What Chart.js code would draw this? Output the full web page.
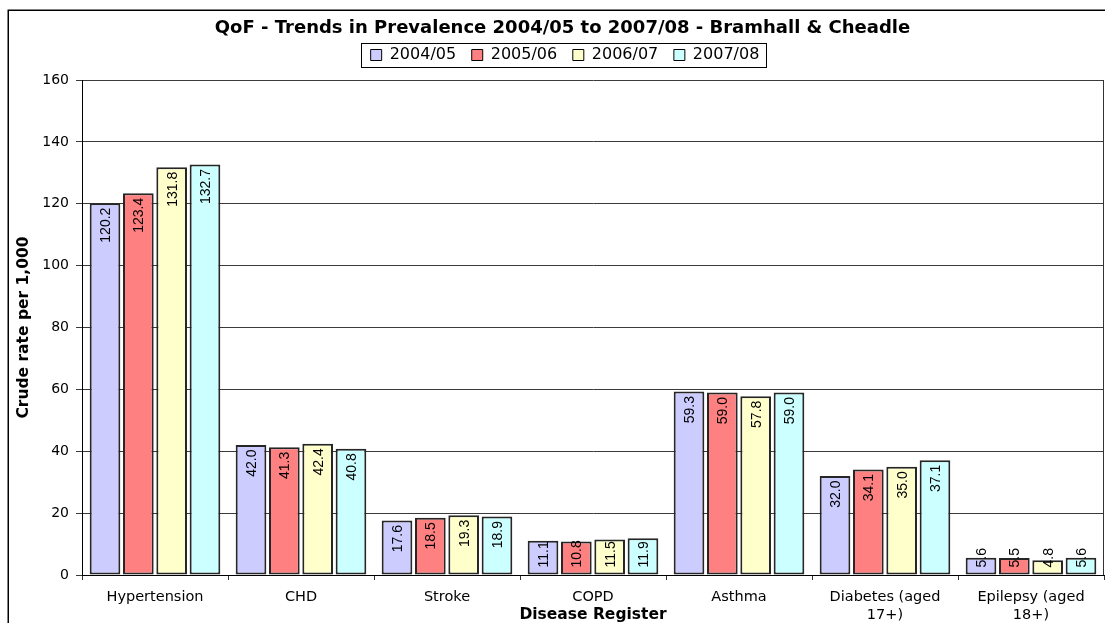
<!DOCTYPE html>
<html>
<head>
<meta charset="utf-8">
<title>QoF - Trends in Prevalence</title>
<script src="https://cdn.jsdelivr.net/npm/chart.js@4.4.0/dist/chart.umd.min.js"></script>
<style>
  html, body { margin: 0; padding: 0; background: #fff; overflow: hidden; width: 1105px; height: 623px; }
  canvas { display: block; }
</style>
</head>
<body>
<canvas id="prevalence" width="1105" height="640"></canvas>
<script>
// Disease registers (x categories) and the four reporting years
const categories = ['Hypertension', 'CHD', 'Stroke', 'COPD', 'Asthma', ['Diabetes (aged', '17+)'], ['Epilepsy (aged', '18+)']];
const seriesNames = ['2004/05', '2005/06', '2006/07', '2007/08'];

// Crude rate per 1,000 for each register
const rates0405 = [120.2, 42.0, 17.6, 11.1, 59.3, 32.0, 5.6];
const rates0506 = [123.4, 41.3, 18.5, 10.8, 59.0, 34.1, 5.5];
const rates0607 = [131.8, 42.4, 19.3, 11.5, 57.8, 35.0, 4.8];
const rates0708 = [132.7, 40.8, 18.9, 11.9, 59.0, 37.1, 5.6];

// Value axis tick labels
const yTicks = [0, 20, 40, 60, 80, 100, 120, 140, 160];

const seriesColors = ['#CCCCFF', '#FF8080', '#FFFFCC', '#CCFFFF'];
const seriesValues = [rates0405, rates0506, rates0607, rates0708];

const FONT = '"DejaVu Sans", "Liberation Sans", Arial, sans-serif';
Chart.defaults.font.family = FONT;
Chart.defaults.color = '#000';

// White background, outer chart frame, plot-area right edge and legend box outline
const chartFrame = {
  id: 'chartFrame',
  beforeDraw(chart) {
    const ctx = chart.ctx;
    ctx.save();
    ctx.fillStyle = '#fff';
    ctx.fillRect(0, 0, chart.width, chart.height);
    ctx.strokeStyle = '#000';
    ctx.lineWidth = 1.5;
    ctx.strokeRect(8.25, 10.25, chart.width + 20, chart.height + 20);
    ctx.restore();
  },
  afterDraw(chart) {
    const ctx = chart.ctx;
    const a = chart.chartArea;
    ctx.save();
    ctx.strokeStyle = '#333';
    ctx.lineWidth = 1;
    ctx.beginPath();
    ctx.moveTo(Math.round(a.right) - 0.5, a.top);
    ctx.lineTo(Math.round(a.right) - 0.5, a.bottom);
    ctx.stroke();

    const boxes = chart.legend && chart.legend.legendHitBoxes;
    if (boxes && boxes.length) {
      const first = boxes[0];
      const last = boxes[boxes.length - 1];
      const cy = first.top + first.height / 2;
      const left = Math.round(first.left - 10) + 0.5;
      const right = Math.round(last.left + last.width + 7) + 0.5;
      const top = Math.round(cy - 12.5) + 0.5;
      const bottom = Math.round(cy + 11.5) + 0.5;
      ctx.strokeStyle = '#000';
      ctx.strokeRect(left, top, right - left, bottom - top);
    }
    ctx.restore();
  }
};

// Nudges the title and legend blocks to their places above the plot
const headerOffset = {
  id: 'headerOffset',
  afterLayout(chart, args, opts) {
    const t = chart.titleBlock;
    const l = chart.legend;
    if (t) {
      t.left += opts.titleDx; t.right += opts.titleDx;
      t.top += opts.titleDy; t.bottom += opts.titleDy;
    }
    if (l) {
      l.left += opts.legendDx; l.right += opts.legendDx;
      l.top += opts.legendDy; l.bottom += opts.legendDy;
    }
  }
};

// Rotated value labels just inside the top of each bar
const barValueLabels = {
  id: 'barValueLabels',
  afterDatasetsDraw(chart) {
    const ctx = chart.ctx;
    ctx.save();
    ctx.font = '14px "Liberation Sans", Arial, sans-serif';
    ctx.fillStyle = '#000';
    ctx.textAlign = 'left';
    ctx.textBaseline = 'alphabetic';
    chart.data.datasets.forEach((ds, di) => {
      const meta = chart.getDatasetMeta(di);
      meta.data.forEach((bar, i) => {
        const text = ds.data[i].toFixed(1);
        const w = ctx.measureText(text).width;
        const start = Math.min(bar.y + 4.5 + w, bar.base - 7);
        ctx.save();
        ctx.translate(bar.x + 5, start);
        ctx.rotate(-Math.PI / 2);
        ctx.fillText(text, 0, 0);
        ctx.restore();
      });
    });
    ctx.restore();
  }
};

const datasets = seriesNames.map((name, k) => ({
  label: name,
  data: seriesValues[k],
  backgroundColor: seriesColors[k],
  borderColor: '#262626',
  borderWidth: 2,
  borderSkipped: false,
  categoryPercentage: 0.913,
  barPercentage: 0.92
}));

new Chart(document.getElementById('prevalence'), {
  type: 'bar',
  data: { labels: categories, datasets },
  plugins: [chartFrame, headerOffset, barValueLabels],
  options: {
    responsive: false,
    animation: false,
    devicePixelRatio: 1,
    layout: { padding: { left: 8, top: 10, right: 1, bottom: 0 } },
    plugins: {
      headerOffset: { titleDx: 6.5, titleDy: 1.5, legendDx: 9, legendDy: -7 },
      title: {
        display: true,
        text: 'QoF - Trends in Prevalence 2004/05 to 2007/08 - Bramhall & Cheadle',
        color: '#000',
        font: { family: FONT, size: 18, weight: 'bold', lineHeight: 1.2 },
        padding: { top: 6.2, bottom: 0.6 }
      },
      legend: {
        display: true,
        position: 'top',
        labels: {
          color: '#000',
          font: { family: FONT, size: 16 },
          boxWidth: 11,
          boxHeight: 11,
          padding: 15.6,
          generateLabels(chart) {
            return Chart.defaults.plugins.legend.labels.generateLabels(chart)
              .map(item => Object.assign(item, { lineWidth: 1, strokeStyle: '#000' }));
          }
        }
      },
      tooltip: { enabled: false }
    },
    scales: {
      x: {
        grid: { display: true, offset: true, drawOnChartArea: false, drawTicks: true, tickLength: 5, color: '#333', lineWidth: 1 },
        border: { display: true, color: '#000', width: 1 },
        ticks: { color: '#000', font: { family: FONT, size: 14.5, lineHeight: 1.2 }, padding: 9, maxRotation: 0, autoSkip: false },
        title: {
          display: true,
          text: 'Disease Register',
          color: '#000',
          font: { family: FONT, size: 15.5, weight: 'bold', lineHeight: 1.2 },
          padding: { top: 0, bottom: 15.7 }
        },
        afterFit(scale) { scale.height = 65; }
      },
      y: {
        min: 0,
        max: 160,
        afterBuildTicks(scale) { scale.ticks = yTicks.map(v => ({ value: v })); },
        grid: { color: '#3a3a3a', lineWidth: 1, drawTicks: true, tickLength: 6 },
        border: { display: true, color: '#000', width: 1 },
        ticks: { color: '#000', font: { family: FONT, size: 14 }, padding: 7 },
        title: {
          display: true,
          text: 'Crude rate per 1,000',
          color: '#000',
          font: { family: FONT, size: 15.5, weight: 'bold', lineHeight: 1.2 },
          padding: { top: 7, bottom: 0 }
        },
        afterFit(scale) { scale.width = 74; }
      }
    }
  }
});
</script>
</body>
</html>
